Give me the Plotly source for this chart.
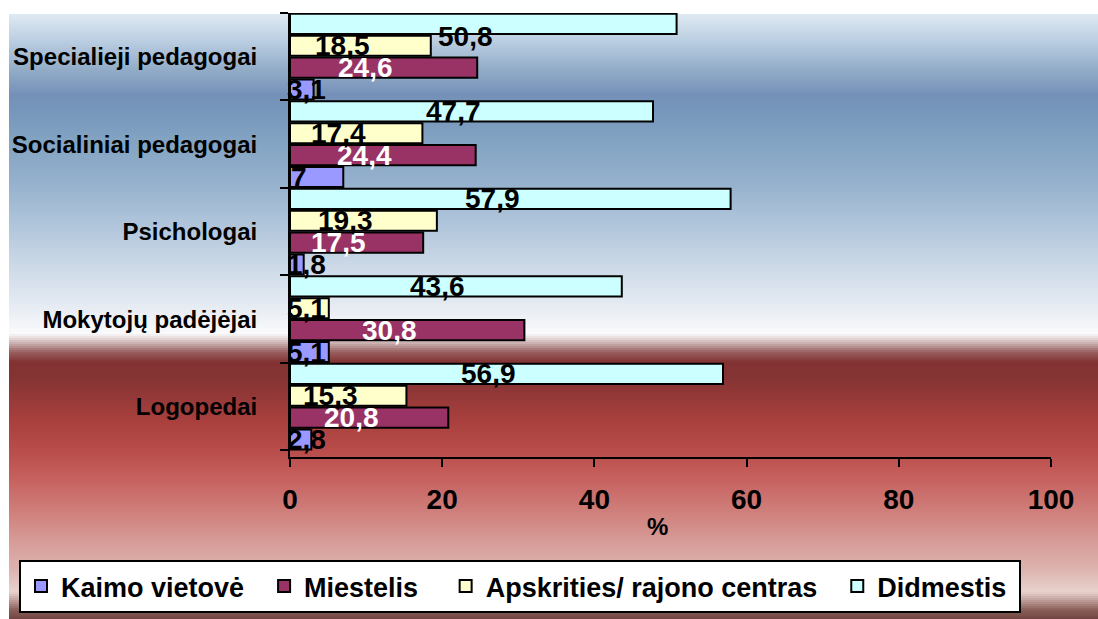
import plotly.graph_objects as go

# ---------------- data ----------------
categories = ["Logopedai", "Mokytojų padėjėjai", "Psichologai",
              "Socialiniai pedagogai", "Specialieji pedagogai"]
series_names = ["Kaimo vietovė", "Miestelis", "Apskrities/ rajono centras", "Didmestis"]
kaimo = [2.8, 5.1, 1.8, 7, 3.1]
miestelis = [20.8, 30.8, 17.5, 24.4, 24.6]
apskrities = [15.3, 5.1, 19.3, 17.4, 18.5]
didmestis = [56.9, 43.6, 57.9, 47.7, 50.8]
x_ticks = [0, 20, 40, 60, 80, 100]

series_values = [kaimo, miestelis, apskrities, didmestis]
bar_colors = ["#9999ff", "#993366", "#ffffcc", "#ccffff"]
label_colors = ["black", "white", "black", "black"]
legend_pad = [2, 3, 2, 1]  # trailing non-breaking spaces for legend spacing

# ---------------- layout geometry ----------------
W, H = 1098, 619
L, R, T, B = 290, 47, 13, 162
PW, PH = W - L - R, H - T - B

def px_to_paper_x(px):
    return (px - L) / PW

def py_to_paper_y(py):
    return (H - B - py) / PH

FONT = "Arial, Liberation Sans, sans-serif"

fig = go.Figure()
for name, vals, col, pad in zip(series_names, series_values, bar_colors, legend_pad):
    fig.add_trace(go.Bar(
        y=categories, x=vals, name=name + "&nbsp;" * pad, orientation="h",
        marker=dict(color=col, line=dict(color="black", width=2)),
        hovertemplate=name + ": %{x}<extra></extra>",
    ))

# data labels (Excel style, bold, decimal comma)
lab_size = 28
n_series = len(series_values)
slot = 1.0 / n_series
annotations = []
for si, (vals, lc) in enumerate(zip(series_values, label_colors)):
    for ci, v in enumerate(vals):
        txt = f"{v:g}".replace(".", ",")
        half_w_px = (len(txt) - 0.5) * 0.556 * lab_size / 2
        center_px = v / 2 * PW / 100 - 18
        center_px = max(center_px, half_w_px - 3)
        yc = ci - 0.5 + slot * (si + 0.5)
        # Excel keeps labels inside the plot area: push down if it would touch the top edge
        top_room_px = (len(categories) - 0.5 - yc) * PH / len(categories)
        yshift = -max(0, 24 - top_room_px)
        annotations.append(dict(
            x=center_px * 100 / PW, y=yc, yshift=yshift,
            xref="x", yref="y", text=txt, showarrow=False,
            xanchor="center", yanchor="middle",
            font=dict(family=FONT, size=lab_size, color=lc, weight="bold"),
        ))

annotations.append(dict(
    x=px_to_paper_x(657), y=py_to_paper_y(526), xref="paper", yref="paper",
    text="%", showarrow=False, xanchor="center", yanchor="middle",
    font=dict(family=FONT, size=24, color="black", weight="bold"),
))

# ---------------- gradient background (shapes) ----------------
stops = [
    (14, "#dfe9f3"), (40, "#bccfe2"), (70, "#92acc8"), (95, "#7590b8"),
    (110, "#7696bb"), (140, "#82a3c2"), (180, "#94b0cc"), (220, "#adc3d9"),
    (260, "#c8d6e5"), (300, "#e2e8f1"), (325, "#f3f5f8"), (333, "#fafafb"),
    (338, "#e8dcdc"), (345, "#c0a0a0"), (352, "#9a6060"), (362, "#823232"),
    (380, "#863434"), (420, "#a8403e"), (450, "#b84c4a"), (480, "#c66260"),
    (510, "#cf7e7a"), (540, "#d69a96"), (570, "#ddb4b0"), (592, "#e8d2ce"),
    (600, "#c0a09c"), (610, "#8a5e58"), (619, "#704440"),
]

def hex2rgb(h):
    h = h.lstrip("#")
    return tuple(int(h[i:i + 2], 16) for i in (0, 2, 4))

def color_at(py):
    for (y0, c0), (y1, c1) in zip(stops[:-1], stops[1:]):
        if y0 <= py <= y1:
            t = (py - y0) / (y1 - y0) if y1 > y0 else 0
            a, b = hex2rgb(c0), hex2rgb(c1)
            return "rgb(%d,%d,%d)" % tuple(round(a[k] + (b[k] - a[k]) * t) for k in range(3))
    return stops[-1][1]

shapes = []
step = 2
py = 14
while py < H:
    shapes.append(dict(
        type="rect", xref="paper", yref="paper", layer="below",
        x0=px_to_paper_x(9), x1=px_to_paper_x(W + 2),
        y0=py_to_paper_y(py + step + 0.6), y1=py_to_paper_y(py),
        fillcolor=color_at(py + step / 2), line=dict(width=0),
    ))
    py += step

fig.update_layout(
    width=W, height=H,
    margin=dict(l=L, r=R, t=T, b=B, pad=0, autoexpand=False),
    paper_bgcolor="white", plot_bgcolor="rgba(0,0,0,0)",
    barmode="group", bargap=0.0, bargroupgap=0.08,
    font=dict(family=FONT, color="black"),
    showlegend=True,
    legend=dict(
        orientation="h", x=px_to_paper_x(19), y=py_to_paper_y(560),
        xanchor="left", yanchor="top",
        bgcolor="white", bordercolor="black", borderwidth=2,
        font=dict(family=FONT, size=27, color="black", weight="bold"),
        traceorder="normal", itemwidth=30,
    ),
    shapes=shapes,
    annotations=annotations,
)
fig.update_xaxes(
    range=[0, 100], tickvals=x_ticks,
    showgrid=False, zeroline=False, showline=True, linecolor="black", linewidth=2,
    ticks="outside", ticklen=8, tickwidth=2, tickcolor="black",
    tickfont=dict(family=FONT, size=28, color="black", weight="bold"), ticklabelstandoff=8,
    fixedrange=True,
)
fig.update_yaxes(
    categoryorder="array", categoryarray=categories,
    showgrid=False, zeroline=False, showline=True, linecolor="black", linewidth=2,
    ticks="outside", ticklen=8, tickwidth=2, tickcolor="black", tickson="boundaries",
    tickfont=dict(family=FONT, size=24, color="black", weight="bold"), ticklabelstandoff=26,
    fixedrange=True,
)

fig.write_html("out.html", config={"displayModeBar": False},
               post_script="document.body.style.margin='0';")
